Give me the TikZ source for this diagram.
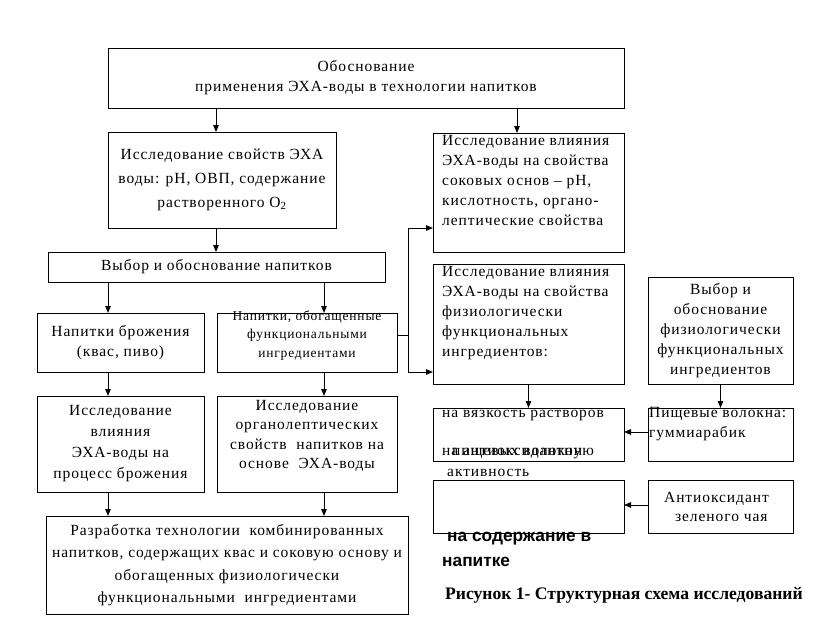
\documentclass[tikz,border=0pt]{standalone}
\usepackage{fontspec}
\setmainfont{Liberation Serif}[LetterSpace=6]
\newfontfamily\capfont{Liberation Serif}
\newfontfamily\boldsans{Liberation Sans}
\usetikzlibrary{arrows.meta}

\tikzset{
  box/.style={draw, line width=1pt, inner sep=0pt, outer sep=0pt},
  txt/.style={font=\fontsize{15.5}{20}\selectfont, align=center},
  ltxt/.style={font=\fontsize{15.5}{20}\selectfont, align=left, inner sep=0pt},
  arr/.style={-{Triangle[length=7pt,width=5.5pt]}, line width=1pt},
  link/.style={line width=1pt},
}

\begin{document}
\begin{tikzpicture}[x=1pt,y=-1pt]
	\useasboundingbox (0,0) rectangle (817,625);

	% left part
	\node[box,txt,minimum width=516pt,minimum height=60pt] (osn) at (366,78) {Обоснование\\применения ЭХА-воды в технологии напитков};
	\node[box,txt,font=\fontsize{15.5}{24}\selectfont,minimum width=228pt,minimum height=96pt] (svoj) at (222,180) {Исследование свойств ЭХА\\воды: pH, ОВП, содержание\\растворенного O\textsubscript{2}};
	\node[box,txt,minimum width=337pt,minimum height=30pt] (vybor) at (216.5,267) {Выбор и обоснование напитков};
	\node[box,txt,minimum width=167pt,minimum height=59pt] (brozh) at (120.5,342.5) {Напитки брожения\\(квас, пиво)};
	\node[box,minimum width=180pt,minimum height=59pt,
		label={[txt,font=\fontsize{13.5}{18.5}\selectfont,yshift=7pt]center:{Напитки, обогащенные\\функциональными\\ингредиентами}}] (funk) at (307,342.5) {};
	\node[box,txt,font=\fontsize{15.5}{21}\selectfont,minimum width=167pt,minimum height=96pt] (issbr) at (120.5,444) {Исследование\\влияния\\ЭХА-воды на\\процесс брожения};
	\node[box,minimum width=180pt,minimum height=96pt,
		label={[txt,font=\fontsize{15.5}{19.5}\selectfont,yshift=8pt]center:{Исследование\\органолептических\\свойств\ \ напитков на\\основе\ \ ЭХА-воды}}] (isorg) at (307,444) {};
	\node[box,txt,font=\fontsize{15.5}{22.3}\selectfont,minimum width=362pt,minimum height=98pt] (razr) at (227,565) {Разработка технологии\ \ комбинированных\\напитков, содержащих квас и соковую основу и\\обогащенных физиологически\\функциональными\ \ ингредиентами};

	% right part
	\node[box,minimum width=191pt,minimum height=119pt,
		label={[ltxt,anchor=north west,xshift=9pt,yshift=-2pt]north west:{Исследование влияния\\ЭХА-воды на свойства\\соковых основ -- pH,\\кислотность, органо-\\лептические свойства}}] (sok) at (528.5,192.5) {};
	\node[box,minimum width=191pt,minimum height=120pt,
		label={[ltxt,anchor=north west,xshift=9pt,yshift=-2pt]north west:{Исследование влияния\\ЭХА-воды на свойства\\физиологически\\функциональных\\ингредиентов:}}] (fiz) at (528.5,324) {};
	\node[box,txt,minimum width=145pt,minimum height=107pt] (vybf) at (720.5,330.5) {Выбор и\\обоснование\\физиологически\\функциональных\\ингредиентов};
	\node[box,minimum width=191pt,minimum height=53pt,
		label={[ltxt,anchor=north west,xshift=9pt,yshift=-2pt]north west:{на вязкость растворов\\[18pt]\hspace*{10pt}пищевых волокон}}] (vyaz) at (528.5,434.5) {};
	\node[box,minimum width=145pt,minimum height=53pt,
		label={[ltxt,anchor=north west,xshift=1pt,yshift=1pt]north west:{Пищевые волокна:\\гуммиарабик}}] (volok) at (720.5,434.5) {};
	\node[box,minimum width=191pt,minimum height=53pt,
		label={[ltxt,font=\fontsize{15.5}{21}\selectfont,anchor=north west,xshift=9pt,yshift=32pt]north west:{на антиоксидантную\\\hspace*{5pt}активность}},
		label={[ltxt,font=\boldsans\bfseries\fontsize{17.3}{25}\selectfont,anchor=north west,xshift=9pt,yshift=1pt]south west:{\hspace*{5pt}на содержание в\\напитке}}] (antiox) at (528.5,506.5) {};
	\node[box,minimum width=145pt,minimum height=53pt,
		label={[txt,font=\fontsize{15.5}{19}\selectfont,xshift=-4pt]center:{Антиоксидант\\\ \ зеленого чая}}] (chaj) at (720.5,506.5) {};

	\node[anchor=west,inner sep=0pt,font=\capfont\bfseries\fontsize{17.6}{20}\selectfont] (ris) at (445,595) {Рисунок 1- Структурная схема исследований};

	% arrows
	\draw[arr] ([xshift=-6pt]svoj.north |- osn.south) -- ([xshift=-6pt]svoj.north);
	\draw[arr] ([xshift=-11.5pt]sok.north |- osn.south) -- ([xshift=-11.5pt]sok.north);
	\draw[arr] ([xshift=-6pt]svoj.south) -- ([xshift=-6pt]svoj.south |- vybor.north);
	\draw[arr] ([xshift=-12.5pt]brozh.north |- vybor.south) -- ([xshift=-12.5pt]brozh.north);
	\draw[arr] ([xshift=17pt]funk.north |- vybor.south) -- ([xshift=17pt]funk.north);
	\draw[arr] ([xshift=-12.5pt]brozh.south) -- ([xshift=-12.5pt]issbr.north);
	\draw[arr] ([xshift=17pt]funk.south) -- ([xshift=17pt]isorg.north);
	\draw[arr] ([xshift=-12.5pt]issbr.south) -- ([xshift=-12.5pt]issbr.south |- razr.north);
	\draw[arr] ([xshift=17pt]isorg.south) -- ([xshift=17pt]isorg.south |- razr.north);

	\draw[link] ([yshift=7.5pt]funk.east) -- ++(11,0) coordinate (fork);
	\draw[arr] (fork) |- ([yshift=-35.5pt]sok.west);
	\draw[arr] (fork) |- ([yshift=-48pt]fiz.west);

	\draw[arr] (fiz.south) -- (vyaz.north);
	\draw[arr] (vybf.south) -- (volok.north);
	\draw[arr] ([yshift=2.5pt]volok.west) -- ([yshift=2.5pt]volok.west -| vyaz.east);
	\draw[arr] ([yshift=1.5pt]chaj.west) -- ([yshift=1.5pt]chaj.west -| antiox.east);
\end{tikzpicture}
\end{document}
